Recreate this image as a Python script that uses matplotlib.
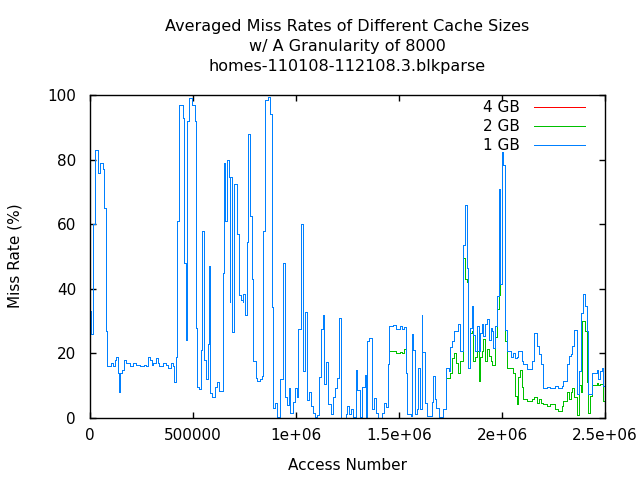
import numpy as np
import matplotlib
matplotlib.use("Agg")
from matplotlib import pyplot as plt

# access number (thousands) where each averaged value starts; same for all sizes up to ~1.44e6
shared_x = [0, 6, 14, 24, 40, 50, 63, 66, 76, 84, 100, 113, 123, 128, 138, 143, 146, 154, 163, 173,
            196, 210, 222, 243, 260, 273, 283, 291, 299, 307, 322, 332, 337, 356, 369, 380, 393, 403,
            409, 419, 424, 434, 450, 458, 466, 471, 482, 493, 508, 516, 521, 531, 540, 545, 555, 565,
            571, 578, 584, 594, 608, 618, 628, 644, 652, 657, 667, 676, 678, 681, 689, 699, 715, 725,
            731, 741, 744, 754, 764, 767, 777, 786, 793, 804, 812, 825, 835, 841, 851, 864, 874, 883,
            890, 900, 909, 922, 938, 946, 955, 964, 971, 984, 993, 1003, 1011, 1024, 1035, 1042, 1052,
            1061, 1074, 1084, 1094, 1103, 1113, 1123, 1130, 1136, 1145, 1157, 1168, 1181, 1187, 1197,
            1207, 1217, 1242, 1249, 1255, 1265, 1278, 1291, 1298, 1310, 1320, 1333, 1340, 1346, 1353,
            1369, 1378, 1388, 1398, 1417, 1427, 1436]
shared_rate = [33, 26, 60, 83, 76, 79, 77, 65, 27, 16, 17, 16, 18, 19, 14, 8, 14, 15, 18, 17,
               16, 17, 16.5, 16, 16.5, 16, 19, 18, 16.5, 17, 18.5, 17, 16, 17, 16.5, 15.5, 17, 16,
               11, 19, 61, 97, 93, 48, 24, 92, 99, 97, 92, 28, 9.5, 9, 21, 58, 18, 12,
               23, 47, 7.6, 6.4, 9.5, 11, 8.4, 45, 79, 61, 80, 74.5, 36, 74.5, 26.6, 72.4, 57, 38,
               36.5, 35.8, 38.5, 32, 54.5, 88, 62.6, 43, 17.7, 12.3, 11.5, 12, 13, 58, 98.5, 99.5, 94.2, 34.4,
               3, 4.5, 0.4, 12, 48, 6.6, 4.1, 9.3, 1.7, 4.8, 9.3, 6.6, 27.7, 60, 14.6, 32.8, 5.6,
               8.2, 3.6, 1.7, 0.2, 1, 12.6, 27.7, 32, 10.5, 17.2, 4.3, 1.2, 6.4, 9.3, 12.3,
               31, 0, 1.2, 3.8, 1.2, 2.8, 0.4, 14.9, 8.6, 0.4, 9.5, 13.4, 0, 23.9, 24.7,
               2.8, 6.1, 1.7, 0, 1.7, 4.5, 3.3]

tail_x = [1446, 1451, 1469, 1485, 1504, 1514, 1524, 1533, 1540, 1556, 1563, 1569, 1579, 1588, 1593,
          1601, 1611, 1614, 1627, 1637, 1660, 1666, 1676, 1682, 1692, 1715, 1728, 1741, 1749, 1757,
          1766, 1779, 1786, 1796, 1812, 1822, 1829, 1837, 1845, 1853, 1861, 1869, 1877, 1887, 1893,
          1901, 1910, 1918, 1926, 1939, 1945, 1952, 1958, 1966, 1974, 1984, 1990, 1998, 2007, 2013,
          2023, 2042, 2055, 2065, 2071, 2080, 2088, 2096, 2104, 2120, 2136, 2146, 2156, 2169, 2178,
          2188, 2198, 2217, 2233, 2258, 2274, 2290, 2298, 2314, 2324, 2334, 2342, 2351, 2366, 2376,
          2382, 2389, 2395, 2405, 2411, 2418, 2427, 2435, 2460, 2468, 2476, 2486, 2492]
tail_1gb = [16.7, 28.5, 28.8, 27.5, 28.5, 27.7, 28.3, 13.8, 1.2, 0.7, 25.9, 21, 1.2, 2.8, 15.6,
            2.8, 32, 20.5, 4.5, 0.5, 4.8, 12.9, 5.9, 3, 0.4, 2.8, 15.4, 14.4, 22, 23.7,
            27, 27, 29, 20.8, 53.7, 66, 46.5, 15.4, 27.8, 34.7, 25.8, 20.8, 28.6, 20.8, 26.4,
            29, 25.4, 29, 30.5, 24, 28, 27, 21.6, 28.6, 37.8, 71, 41.4, 82.5, 78.4, 27.2,
            20.8, 18.9, 20, 18.5, 18.9, 20.8, 20.8, 17.7, 16.7, 15.1, 15.1, 17.7, 26.4, 22.3, 19.8,
            16.7, 9.2, 9.6, 9.4, 10, 9.2, 10, 11.5, 16.7, 19.2, 19.8, 22.3, 27.2, 7.4, 14.6,
            32.6, 32.6, 38.5, 34.7, 27, 7.4, 7.4, 13.8, 14.8, 12, 14.4, 15.6, 10]
tail_2gb = [16.7, 20.8, 20.6, 20.0, 20.4, 20.2, 21.5, 13.8, 1.2, 0.7, 25.9, 21, 1.2, 2.8, 15.6,
            2.8, 32, 20.5, 4.5, 0.5, 4.8, 12.9, 5.9, 3, 0.4, 2.8, 12.3, 12.5, 14, 18.5,
            20, 17, 14, 17.7, 49.6, 43, 42, 15.4, 26.4, 27, 17.5, 19, 20.8, 11.5, 18.9,
            20.8, 24.4, 17.5, 21.5, 19.2, 17.5, 16.5, 16.3, 25, 33.6, 38, 41.4, 78.4, 78.4, 23.7,
            15.6, 15.6, 14, 6.9, 4.3, 12.6, 15, 9.5, 5.9, 5.2, 5.4, 5.9, 6.4, 4.5, 5.9,
            4.5, 4.3, 3.8, 4.3, 2.8, 2.3, 3.8, 5.4, 8, 5.9, 8, 9.2, 6.4, 1, 10.2,
            8, 30, 30, 27, 11, 1.7, 6.9, 10.2, 10.7, 10.2, 10.5, 10.5, 5.3]

x_end = 2500

access = np.array(shared_x + tail_x + [x_end]) * 1000
rate_1gb = np.array(shared_rate + tail_1gb + [tail_1gb[-1]])
rate_2gb = np.array(shared_rate + tail_2gb + [tail_2gb[-1]])
rate_4gb = rate_2gb  # 4 GB curve sits under the 2 GB one

fig = plt.figure(figsize=(6.4, 4.8), dpi=100)
ax = fig.add_axes([90 / 640, 1 - 418 / 480, 515 / 640, 323 / 480])

# gnuplot-like crisp 1px lines (no antialiasing, so overlapping curves keep pure colours)
lw = 0.72
ax.step(access, rate_4gb, where="post", color="#ff0000", lw=lw, label="4 GB", antialiased=False)
ax.step(access, rate_2gb, where="post", color="#00c000", lw=lw, label="2 GB", antialiased=False)
ax.step(access, rate_1gb, where="post", color="#0080ff", lw=lw, label="1 GB", antialiased=False)

ax.set_xlim(0, 2.5e6)
ax.set_ylim(0, 100)
ax.set_xticks([0, 500000, 1e6, 1.5e6, 2e6, 2.5e6])
ax.set_xticklabels(["0", "500000", "1e+06", "1.5e+06", "2e+06", "2.5e+06"])
ax.set_yticks([0, 20, 40, 60, 80, 100])
ax.tick_params(direction="in", length=4.5, width=1, top=True, right=True, labelsize=11, colors="black")
ax.tick_params(axis="y", pad=10)
ax.tick_params(axis="x", pad=7)
for s in ax.spines.values():
    s.set_linewidth(1)

fig.text(0.543, 1 - 26 / 480, "Averaged Miss Rates of Different Cache Sizes", ha="center", va="center", fontsize=11.5)
fig.text(0.543, 1 - 46 / 480, "w/ A Granularity of 8000", ha="center", va="center", fontsize=11.5)
fig.text(0.543, 1 - 66 / 480, "homes-110108-112108.3.blkparse", ha="center", va="center", fontsize=11.5)
fig.text(0.543, 1 - 465 / 480, "Access Number", ha="center", va="center", fontsize=11)
fig.text(15 / 640, 1 - 256 / 480, "Miss Rate (%)", ha="center", va="center", rotation=90, fontsize=11)

leg = ax.legend(loc="upper right", frameon=False, markerfirst=False, fontsize=11,
                handlelength=3.3, labelspacing=0.25, borderaxespad=0.2, handletextpad=0.9,
                bbox_to_anchor=(0.978, 1.012))
for line in leg.get_lines():
    line.set_antialiased(False)
    line.set_linewidth(lw)

plt.savefig("out.png", dpi=100)
